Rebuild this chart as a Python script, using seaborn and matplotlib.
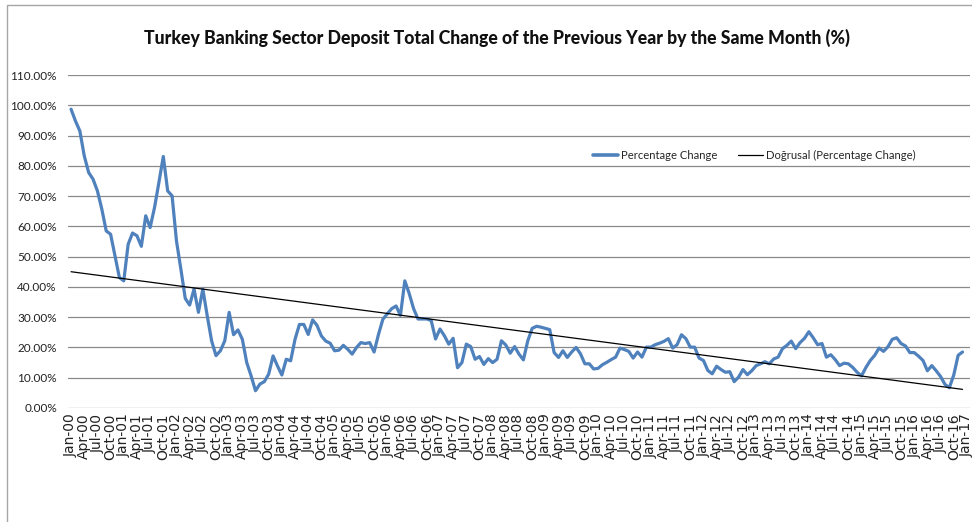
import numpy as np
import pandas as pd
import matplotlib
matplotlib.use("Agg")
import matplotlib.pyplot as plt
from matplotlib import font_manager
from matplotlib.ticker import PercentFormatter
from matplotlib.lines import Line2D
from matplotlib.patches import Rectangle
import seaborn as sns

# Year-over-year change of total deposits, monthly, Jan 2000 - Dec 2016 (%)
pct_2000 = [98.7, 94.8, 91.5, 83.3, 77.8, 75.6, 71.7, 65.7, 58.5, 57.4, 50.3, 43.1]
pct_2001 = [42.0, 54.1, 57.8, 56.9, 53.4, 63.5, 59.6, 66.2, 74.5, 83.1, 71.7, 70.1]
pct_2002 = [55.2, 45.9, 36.2, 34.0, 39.3, 31.6, 39.3, 30.5, 22.2, 17.3, 18.9, 22.2]
pct_2003 = [31.6, 24.2, 25.8, 22.7, 15.0, 10.6, 5.7, 7.9, 8.7, 11.2, 17.2, 13.9]
pct_2004 = [10.9, 16.1, 15.6, 22.7, 27.6, 27.6, 24.3, 29.1, 27.3, 23.8, 22.1, 21.4]
pct_2005 = [18.9, 19.1, 20.7, 19.4, 17.8, 20.0, 21.6, 21.3, 21.6, 18.5, 24.3, 29.3]
pct_2006 = [31.1, 32.8, 33.7, 30.6, 42.0, 37.8, 32.8, 29.4, 29.4, 29.4, 28.9, 22.8]
pct_2007 = [26.1, 23.9, 21.1, 23.0, 13.3, 15.0, 21.1, 20.3, 16.1, 17.0, 14.4, 16.3]
pct_2008 = [15.0, 16.1, 22.2, 20.8, 18.1, 20.3, 17.8, 15.9, 22.2, 26.3, 27.0, 26.7]
pct_2009 = [26.3, 25.9, 18.3, 16.7, 18.9, 16.7, 18.5, 20.0, 17.9, 14.6, 14.6, 12.9]
pct_2010 = [13.1, 14.3, 15.1, 16.0, 16.8, 19.8, 19.3, 18.7, 16.5, 18.5, 16.8, 20.1]
pct_2011 = [20.1, 20.9, 21.4, 22.0, 22.9, 19.8, 20.9, 24.2, 22.9, 20.1, 20.1, 16.5]
pct_2012 = [15.7, 12.4, 11.3, 13.8, 12.7, 11.8, 12.0, 8.7, 10.2, 12.7, 11.0, 12.3]
pct_2013 = [14.0, 14.6, 15.3, 14.6, 16.2, 16.8, 19.6, 20.7, 22.1, 19.6, 21.6, 23.0]
pct_2014 = [25.2, 23.2, 20.9, 21.3, 16.8, 17.6, 16.0, 14.0, 14.8, 14.6, 13.4, 11.8]
pct_2015 = [10.6, 13.4, 15.7, 17.4, 19.8, 18.7, 20.2, 22.7, 23.2, 21.3, 20.5, 18.3]
pct_2016 = [18.3, 17.1, 15.7, 12.3, 14.0, 12.3, 10.4, 7.8, 6.7, 10.9, 17.4, 18.5]

years = list(range(2000, 2017))
tick_months = ["Jan", "Apr", "Jul", "Oct"]
tick_labels = [f"{m}-{y % 100:02d}" for y in years for m in tick_months] + ["Jan-17"]
y_ticks = [0, 10, 20, 30, 40, 50, 60, 70, 80, 90, 100, 110]

title = "Turkey Banking Sector Deposit Total Change of the Previous Year by the Same Month (%)"
series_name = "Percentage Change"
trend_name = "Doğrusal (Percentage Change)"

values = np.array(pct_2000 + pct_2001 + pct_2002 + pct_2003 + pct_2004 + pct_2005
                  + pct_2006 + pct_2007 + pct_2008 + pct_2009 + pct_2010 + pct_2011
                  + pct_2012 + pct_2013 + pct_2014 + pct_2015 + pct_2016)
month_idx = np.arange(len(values))
df = pd.DataFrame({"month": month_idx, "pct": values})

# linear least-squares trend over the whole series
slope, intercept = np.polyfit(month_idx, values, 1)
df["trend"] = intercept + slope * month_idx

sns.set_style("white")


def pick(families):
    names = {f.name for f in font_manager.fontManager.ttflist}
    for fam in families:
        if fam in names:
            return fam
    return "DejaVu Sans"


title_font = pick(["Liberation Sans Narrow", "Lato", "DejaVu Sans"])
body_font = pick(["Lato", "Open Sans", "DejaVu Sans"])
plt.rcParams["font.family"] = [body_font, "DejaVu Sans"]

W, H = 972, 522
fig = plt.figure(figsize=(W / 100, H / 100), dpi=100)
ax = fig.add_axes([68 / W, 1 - 408 / H, (970 - 68) / W, (408 - 75) / H])

blue = "#4F81BD"
sns.lineplot(data=df, x="month", y="pct", ax=ax, color=blue, lw=2.3,
             solid_joinstyle="round", legend=False)
sns.lineplot(data=df, x="month", y="trend", ax=ax, color="black", lw=0.9,
             legend=False)

ax.set_ylim(0, 110)
ax.set_xlim(-0.7, 204.7)
ax.set_yticks(y_ticks)
ax.yaxis.set_major_formatter(PercentFormatter(xmax=100, decimals=2))
ax.set_xticks(np.arange(0, 205, 3))
ax.set_xticklabels(tick_labels, rotation=90, fontsize=10,
                   family="DejaVu Sans", color="#222222")
ax.tick_params(axis="x", length=0, pad=4)
ax.tick_params(axis="y", length=0, pad=8, labelsize=8.5, labelcolor="#222222")
ax.set_xlabel("")
ax.set_ylabel("")
ax.yaxis.grid(True, color="#8a8a8a", lw=0.9)
ax.set_axisbelow(True)
for s in ax.spines.values():
    s.set_visible(False)

handles = [Line2D([], [], color=blue, lw=2.6),
           Line2D([], [], color="black", lw=0.9)]
fig.legend(handles, [series_name, trend_name], loc="center left",
           bbox_to_anchor=(583 / W, 1 - 155 / H), ncol=2, frameon=False,
           fontsize=8.1, handlelength=2.2, handletextpad=0.25,
           columnspacing=1.9)

# title sized to span the chart width
t = fig.text(497 / W, 1 - 38 / H, title, ha="center", va="center",
             fontsize=15, fontweight=900, family=title_font, color="#111111")
fig.canvas.draw()
bb = t.get_window_extent(renderer=fig.canvas.get_renderer())
t.set_fontsize(15 * 711 / bb.width)

# outer chart frame
fig.patches.append(Rectangle((7 / W, -0.05), 1.1, 1 - 5 / H + 0.05,
                             transform=fig.transFigure, fill=False,
                             edgecolor="#a6a6a6", lw=1.0))

fig.savefig("out.png", dpi=100)
